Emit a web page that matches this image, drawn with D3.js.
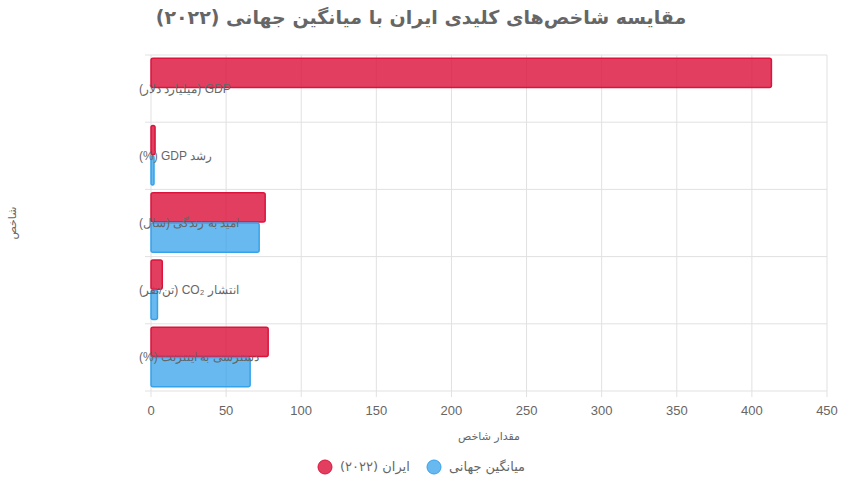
<!DOCTYPE html>
<html><head><meta charset="utf-8">
<script src="https://cdn.jsdelivr.net/npm/d3@7"></script>
<style>body{margin:0;background:#fff;font-family:"DejaVu Sans",sans-serif}</style>
</head><body><svg id="c" width="842" height="488"></svg>
<script>
const categories = ["GDP (میلیارد دلار)", "رشد GDP (%)", "امید به زندگی (سال)", "انتشار CO₂ (تن/نفر)", "دسترسی به اینترنت (%)"];
const iranValues = [413, 2.7, 76, 7.5, 78];
const worldValues = [null, 2.0, 72, 4.3, 66];
const seriesNames = ["ایران (۲۰۲۲)", "میانگین جهانی"];
const xTicks = [0, 50, 100, 150, 200, 250, 300, 350, 400, 450];

const svg = d3.select("#c");
const m = {l: 151, r: 827, t: 55, b: 391};
const x = d3.scaleLinear().domain([0, 450]).range([m.l, m.r]);
const y = d3.scaleBand().domain(categories).range([m.t, m.b]);
const inner = d3.scaleBand().domain([0, 1]).range([0, y.bandwidth()]).paddingInner(0).paddingOuter(0.1 / 0.8 * 0.5 * 0.8);
const series = [
  {name: seriesNames[0], vals: iranValues, fill: "rgba(220,20,60,0.82)", stroke: "#dc143c"},
  {name: seriesNames[1], vals: worldValues, fill: "rgba(54,162,235,0.75)", stroke: "#36a2eb"}
];
const grid = "#e1e1e1", txt = "#666";

// grid
svg.append("g").selectAll("line").data(xTicks).join("line")
  .attr("x1", d => x(d)).attr("x2", d => x(d)).attr("y1", m.t).attr("y2", m.b + 6)
  .attr("stroke", grid);
svg.append("g").selectAll("line").data(d3.range(categories.length + 1)).join("line")
  .attr("x1", m.l - 6).attr("x2", m.r).attr("y1", i => m.t + i * y.step()).attr("y2", i => m.t + i * y.step())
  .attr("stroke", grid);

// bars
const bh = y.bandwidth() * 0.45, off = y.bandwidth() * 0.05;
series.forEach((s, si) => {
  svg.append("g").selectAll("rect").data(categories.map((c, i) => ({c, v: s.vals[i]})).filter(d => d.v != null))
    .join("rect")
    .attr("x", x(0)).attr("y", d => y(d.c) + off + si * bh)
    .attr("width", d => x(d.v) - x(0)).attr("height", bh - 1)
    .attr("rx", 2)
    .attr("fill", s.fill).attr("stroke", s.stroke).attr("stroke-width", 1.5);
});

// axes text
svg.append("g").selectAll("text").data(xTicks).join("text")
  .attr("x", d => x(d)).attr("y", m.b + 24).attr("text-anchor", "middle")
  .attr("fill", txt).attr("font-size", 13).attr("font-family", "Liberation Sans, Arial").text(d => d);
svg.append("g").selectAll("text").data(categories).join("text")
  .attr("x", m.l - 12).attr("y", d => y(d) + y.bandwidth() / 2 + 4).attr("text-anchor", "end")
  .attr("direction", "rtl")
  .attr("fill", txt).attr("font-size", 12).attr("font-family", "Liberation Sans, Arial").text(d => d);

svg.append("text").attr("x", (m.l + m.r) / 2).attr("y", 440).attr("text-anchor", "middle")
  .attr("fill", txt).attr("font-size", 11).text("مقدار شاخص");
svg.append("text").attr("transform", `translate(16,${(m.t + m.b) / 2}) rotate(-90)`).attr("text-anchor", "middle")
  .attr("fill", txt).attr("font-size", 11).text("شاخص");
svg.append("text").attr("x", 421).attr("y", 24).attr("text-anchor", "middle").attr("direction", "rtl")
  .attr("fill", txt).attr("font-size", 19).attr("font-weight", "bold").text("مقایسه شاخص‌های کلیدی ایران با میانگین جهانی (۲۰۲۲)");

// legend
const lg = [{s: series[0], cx: 325, tx: 340}, {s: series[1], cx: 434, tx: 449}];
lg.forEach(l => {
  svg.append("circle").attr("cx", l.cx).attr("cy", 467).attr("r", 7)
    .attr("fill", l.s.fill).attr("stroke", l.s.stroke).attr("stroke-width", 1);
  svg.append("text").attr("x", l.tx).attr("y", 471).attr("fill", txt).attr("font-size", 13)
    .attr("direction", "ltr").text(l.s.name);
});
</script></body></html>
